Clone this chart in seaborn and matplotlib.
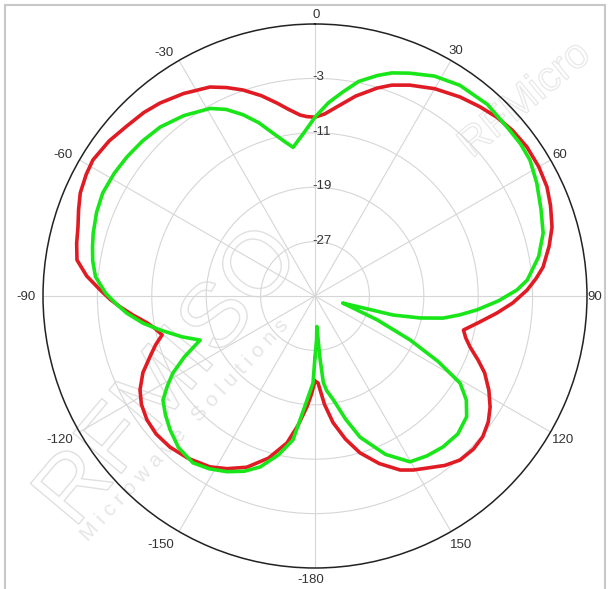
import matplotlib.pyplot as plt
import matplotlib.patheffects as pe
import numpy as np
import pandas as pd
import seaborn as sns
from matplotlib.patches import Rectangle
from matplotlib.transforms import offset_copy

# pattern cuts: angle in degrees (0 at top, clockwise), gain in dB
red_theta = [-180, -178, -175.9, -172.5, -169.2, -164, -158.3, -153, -148.4, -142,
             -136.2, -131, -126.4, -122, -118.2, -114, -110.3, -107, -104.3, -101.5,
             -99.1, -96, -93.2, -91, -88.4, -85, -81.4, -77.5, -73.8, -70,
             -66.3, -62, -58.5, -53, -48, -43, -38.8, -33, -26.7, -23,
             -19.3, -15, -11.1, -8, -4.7, -2.5, 0, 3, 6.6, 11.5,
             16.6, 20, 24.2, 30, 36, 41, 45.5, 50, 54.9, 60,
             64.8, 69, 73.8, 78, 82.8, 85.5, 88.4, 92, 95.3, 99,
             102.9, 105.5, 108.2, 111.5, 114.4, 118.5, 122.4, 126, 130, 134,
             138.5, 142.5, 146.9, 150.5, 153.9, 159, 164, 168, 171.9, 175,
             178, 180]
red_db = [-22.5, -20.6, -18.7, -15.8, -13.0, -10.2, -7.9, -6.5, -5.5, -4.7,
          -4.2, -4.05, -4.3, -4.9, -5.8, -7.3, -9.1, -10.5, -11.8, -11.0,
          -10.0, -8.1, -6.3, -4.9, -3.4, -1.3, 0.4, 0.9, 1.3, 2.0,
          2.7, 3.1, 3.3, 2.9, 2.3, 1.9, 1.4, 0.5, -0.6, -1.7,
          -2.9, -4.5, -6.1, -7.3, -8.3, -8.6, -8.7, -8.2, -7.0, -5.0,
          -3.1, -2.0, -1.0, 0.2, 1.2, 1.9, 2.5, 2.9, 3.1, 3.0,
          2.7, 2.1, 1.3, 0.2, -1.2, -2.4, -3.8, -5.9, -8.1, -10.5,
          -12.6, -12.0, -11.0, -9.2, -7.6, -5.9, -4.5, -3.5, -2.8, -2.6,
          -2.8, -3.6, -4.8, -5.6, -6.5, -8.6, -11.0, -13.5, -16.2, -19.0,
          -22.2, -22.5]

green_theta = [-180, -178.7, -175, -171.3, -167, -162.2, -158, -153.4, -148.5, -143.8,
               -138, -132.7, -128.5, -124.4, -121.5, -118.5, -115, -111, -107, -102.4,
               -99, -95.2, -92, -89.2, -85, -81, -77.6, -74.2, -69, -64.1,
               -58.5, -53.5, -48, -42.5, -36, -29.2, -25.5, -21.7, -18, -14.4,
               -11.5, -8.4, -4, 0, 4, 7.8, 11.5, 15.8, 19, 23,
               28.5, 34.5, 42, 49.6, 53.5, 57.7, 63, 69, 74.6, 80,
               85.7, 88.3, 91.5, 94.9, 97.5, 99.8, 101.8, 103.7, 104.3, 108,
               111, 114.8, 118, 121, 124.5, 128.5, 134, 139.7, 145, 150.2,
               156, 162.3, 166, 170, 173, 174.5, 175.5, 176.5, 178, 180]
green_db = [-26.0, -22.2, -19.0, -13.6, -11.0, -8.6, -7.2, -6.1, -5.2, -4.6,
            -5.0, -6.0, -6.9, -7.9, -9.5, -11.2, -13.8, -16.9, -14.5, -11.7,
            -9.4, -7.2, -5.6, -4.2, -2.6, -1.9, -1.5, -1.1, -0.6, -0.3,
            -0.4, -0.6, -0.9, -1.3, -2.2, -3.4, -4.6, -6.3, -8.2, -10.3,
            -11.7, -12.9, -11.0, -8.7, -6.5, -4.7, -2.8, -1.3, -0.3, 0.6,
            1.8, 2.6, 2.9, 2.6, 2.6, 2.4, 1.6, 0.6, -0.2, -1.6,
            -3.7, -5.3, -8.0, -11.1, -13.6, -15.9, -19.2, -23.2, -30.8, -28.8,
            -25.2, -19.6, -14.5, -10.1, -8.0, -6.5, -5.8, -5.9, -6.3, -6.9,
            -9.5, -13.2, -16.3, -19.5, -21.0, -22.2, -26.0, -30.5, -28.5, -26.0]

ring_values = [-27, -19, -11, -3]
angle_ticks = [0, 30, 60, 90, 120, 150, 180, 210, 240, 270, 300, 330]
angle_labels = ["0", "30", "60", "90", "120", "150", "-180", "-150", "-120", "-90", "-60", "-30"]

red_df = pd.DataFrame({"theta": np.deg2rad(red_theta), "db": red_db})
green_df = pd.DataFrame({"theta": np.deg2rad(green_theta), "db": green_db})

sns.set_style("white")
plt.rcParams["font.family"] = ["Liberation Sans", "DejaVu Sans"]

fig = plt.figure(figsize=(6.1, 5.89), dpi=100)
fig.patch.set_facecolor("white")
ax = fig.add_axes([43 / 610, 21 / 589, 544 / 610, 544 / 589], projection="polar")
ax.set_zorder(1)
ax.patch.set_alpha(0)
ax.set_theta_zero_location("N")
ax.set_theta_direction(-1)

# faint outlined watermark behind the plot
wm = dict(color="none", zorder=0, ha="center", va="center")
fig.text(170 / 610, 1 - 378 / 589, "RFMISO", fontsize=66, rotation=50,
         path_effects=[pe.withStroke(linewidth=1.0, foreground="#e0e0e0")], **wm)
fig.text(525 / 610, 1 - 100 / 589, "RFMicro", fontsize=30, rotation=40,
         path_effects=[pe.withStroke(linewidth=0.9, foreground="#e8e8e8")], **wm)
fig.text(185 / 610, 1 - 430 / 589, "M i c r o w a v e   S o l u t i o n s",
         fontsize=15, rotation=47, color="#e6e6e6", ha="center", va="center", zorder=0)

sns.lineplot(data=red_df, x="theta", y="db", sort=False, estimator=None,
             color="#e01b24", linewidth=2.6, ax=ax)
sns.lineplot(data=green_df, x="theta", y="db", sort=False, estimator=None,
             color="#19e619", linewidth=2.6, ax=ax)
ax.set_xlabel("")
ax.set_ylabel("")

ax.set_ylim(-35, 5)
ax.set_yticks(ring_values)
ax.set_yticklabels([])
ax.set_xticks(np.deg2rad(angle_ticks))
ax.set_xticklabels([])
ax.set_xticks(np.deg2rad(np.arange(0, 360, 5)), minor=True)

ax.grid(True, which="major", color="#d6d6d6", linewidth=0.8)
ax.tick_params(axis="x", which="major", direction="in", length=12, width=1, color="#222222")
ax.tick_params(axis="x", which="minor", direction="in", length=6, width=1, color="#222222")
ax.tick_params(axis="y", length=0)
ax.spines["polar"].set_color("#222222")
ax.spines["polar"].set_linewidth(1.1)

# angle labels outside the rim; the old plotter pushes the negative ones further out
label_shift = [(1, 9), (5, 9), (9, 5), (8, -1), (13, -8), (10, -13),
               (-4, -12), (-18, -13), (-20, -8), (-17, -1), (-16, 5), (-15, 7)]
for ang, lab, (dx, dy) in zip(angle_ticks, angle_labels, label_shift):
    tr = offset_copy(ax.transData, fig=fig, x=dx, y=dy, units="dots")
    ax.text(np.deg2rad(ang), 5, lab, transform=tr, ha="center", va="center",
            fontsize=9.5, color="#333333", clip_on=False)

# ring labels sit along the 0 degree spoke
lab_tr = offset_copy(ax.transData, fig=fig, x=-3, y=1, units="dots")
for v in ring_values:
    ax.text(0, v, str(v), transform=lab_tr, ha="left", va="center",
            fontsize=9.5, color="#333333")

# light frame around the picture
fig.patches.append(Rectangle((5 / 610, -0.02), 600 / 610, 1.02 - 5 / 589,
                             transform=fig.transFigure, fill=False,
                             edgecolor="#c8c8c8", linewidth=1.5))

fig.savefig("out.png", dpi=100)
